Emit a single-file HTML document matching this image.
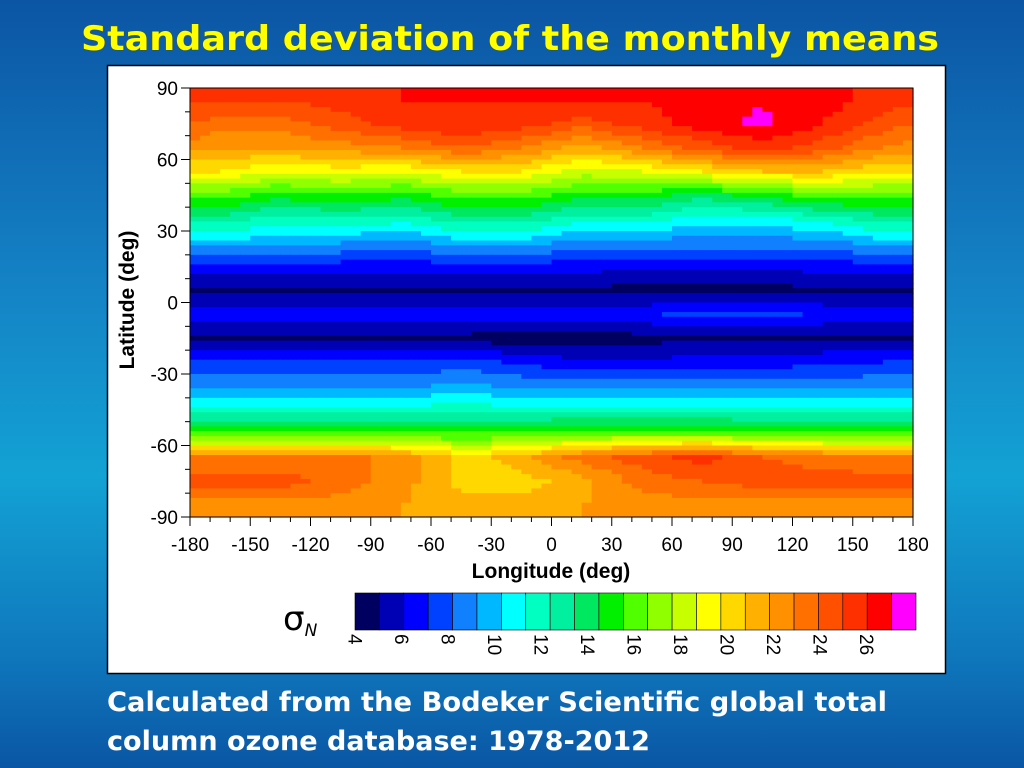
<!DOCTYPE html>
<html><head><meta charset="utf-8"><style>
html,body{margin:0;padding:0;width:1024px;height:768px;overflow:hidden}
svg text{font-family:"Liberation Sans",Arial,sans-serif}
</style></head><body>
<svg id="root" width="1024" height="768" viewBox="0 0 1024 768" xmlns="http://www.w3.org/2000/svg">
<defs>
<linearGradient id="bg" x1="0" y1="0" x2="0" y2="1">
<stop offset="0" stop-color="#0b55a4"/><stop offset="0.35" stop-color="#1480c4"/>
<stop offset="0.62" stop-color="#13a2d4"/><stop offset="0.85" stop-color="#0f78bd"/>
<stop offset="1" stop-color="#0a56a4"/></linearGradient>
</defs>
<rect x="0" y="0" width="1024" height="768" fill="url(#bg)"/>
<text x="510" y="50" text-anchor="middle" fill="#ffff00" font-size="34" font-weight="bold" textLength="858" lengthAdjust="spacingAndGlyphs" style="font-family:'DejaVu Sans',sans-serif;paint-order:stroke" stroke="#555500" stroke-width="0.6">Standard deviation of the monthly means</text>
<rect x="107.5" y="65.5" width="838" height="608" fill="#fff" stroke="#000" stroke-width="1.5"/>
<g id="map"></g>
<g id="axes"></g>
<g id="cbar"></g>
<text x="134" y="300" transform="rotate(-90 134 300)" text-anchor="middle" font-size="21" font-weight="bold">Latitude (deg)</text>
<text x="551" y="578" text-anchor="middle" font-size="21" font-weight="bold">Longitude (deg)</text>
<text x="283" y="630" font-size="34" style="font-family:'DejaVu Sans',sans-serif">σ<tspan font-size="17" font-style="italic" dy="6">N</tspan></text>
<text x="107" y="711" fill="#fff" font-size="27" font-weight="bold" textLength="780" lengthAdjust="spacingAndGlyphs" style="font-family:'DejaVu Sans',sans-serif">Calculated from the Bodeker Scientific global total</text>
<text x="107" y="750" fill="#fff" font-size="27" font-weight="bold" textLength="543" lengthAdjust="spacingAndGlyphs" style="font-family:'DejaVu Sans',sans-serif">column ozone database: 1978-2012</text>
</svg>
<script>
// latitude row centres (deg) and longitude column centres (deg)
const latCenters=[85,75,65,55,45,35,25,15,5,-5,-15,-25,-35,-45,-55,-65,-75,-85];
const lonCenters=[-165,-135,-105,-75,-45,-15,15,45,75,105,135,165];
// standard deviation values, one row per latitude centre
const sd85=[24,24,24.5,25,25,25,25,25,25.5,25.9,25.5,24.5];
const sd75=[22.5,22.5,23.5,24.5,25,24.5,23.5,24.5,25.5,26.3,25,23.5];
const sd65=[21,21,21.5,22,23,22,20.5,22,23.5,24.5,23.5,22];
const sd55=[19,18,18.5,18,19,19,17.5,18,19,20,20,19];
const sd45=[15.5,14.5,15,14.5,15.5,15.5,14.5,14.5,13.5,14.5,15.5,15.5];
const sd35=[12.5,11.5,12,11.5,12.5,12.5,11.5,11.5,10.5,10.5,11.5,12.5];
const sd25=[9.5,9.5,9,8.5,9.5,9.5,8.5,8.5,8.5,8.5,8.5,9.5];
const sd15=[6.5,6.5,6.5,6.5,6.5,6.5,6.5,6,6,6,6.5,6.5];
const sd5=[4.8,4.8,4.8,4.8,4.8,4.8,4.8,4.6,4.5,4.6,4.8,4.8];
const sdm5=[6.8,6.8,6.8,6.8,6.8,6.5,6.5,6.8,7.5,7.5,6.8,6.8];
const sdm15=[4.8,4.8,4.8,4.8,4.6,4.3,4.3,4.6,4.8,4.8,4.8,4.8];
const sdm25=[7,7,7,7,7.5,6.8,6.2,6.2,6.5,6.5,6.8,7];
const sdm35=[8.8,8.8,8.8,8.8,9.2,8.8,8.5,8.5,8.5,8.5,8.5,8.8];
const sdm45=[11.5,11.5,11.5,11.5,11.5,11.5,11.5,11.5,11.5,11.5,11.5,11.5];
const sdm55=[15,15,15,15,15,15,15.5,15.5,15.5,15,15,15];
const sdm65=[22,22,22.5,21.5,19.5,20.5,22.5,23.5,24.5,23,22.5,22];
const sdm75=[23.5,23.5,22.5,21.5,19.5,19.5,20.5,22.5,23,23.5,23.5,23.5];
const sdm85=[21.5,21.5,21.5,21,20.5,20.5,21,21.5,21.5,21.5,21.5,21.5];
const grid=[sd85,sd75,sd65,sd55,sd45,sd35,sd25,sd15,sd5,sdm5,sdm15,sdm25,sdm35,sdm45,sdm55,sdm65,sdm75,sdm85];
const xTicks=[-180,-150,-120,-90,-60,-30,0,30,60,90,120,150,180];
const yTicks=[90,60,30,0,-30,-60,-90];
const cbLabels=[4,6,8,10,12,14,16,18,20,22,24,26];
const cmap=["#000060","#0000b4","#0000ff","#0040ff","#1080ff","#00b8ff","#00ffff","#00ffc0","#00f0a0","#00e860","#00f000","#50ff00","#90ff00","#c8ff00","#ffff00","#ffd800","#ffb000","#ff9000","#ff7000","#ff5000","#ff3000","#ff0000","#ff00ff"];

const NS="http://www.w3.org/2000/svg";
const X0=190,X1=913,Y0=88,Y1=517;
const xs=lon=>X0+(lon+180)/360*(X1-X0);
const ys=lat=>Y0+(90-lat)/180*(Y1-Y0);
function mk(tag,attrs,parent){const e=document.createElementNS(NS,tag);for(const k in attrs)e.setAttribute(k,attrs[k]);parent.appendChild(e);return e;}
function colorFor(v){let i=Math.floor(v-4);if(i<0)i=0;if(i>22)i=22;return cmap[i];}
function sample(lat,lon){
  let fr=(latCenters[0]-lat)/10; if(fr<0)fr=0; if(fr>latCenters.length-1)fr=latCenters.length-1;
  const r0=Math.floor(fr),r1=Math.min(r0+1,latCenters.length-1),tr=fr-r0;
  let fc=(lon-lonCenters[0])/30; const n=lonCenters.length;
  fc=((fc%n)+n)%n; const c0=Math.floor(fc),c1=(c0+1)%n,tc=fc-c0;
  const a=grid[r0][c0]*(1-tc)+grid[r0][c1]*tc, b=grid[r1][c0]*(1-tc)+grid[r1][c1]*tc;
  return a*(1-tr)+b*tr;
}
const map=document.getElementById('map');
const dLat=2,dLon=5;
for(let lat=90;lat>-90;lat-=dLat){
  for(let lon=-180;lon<180;lon+=dLon){
    const v=sample(lat-dLat/2,lon+dLon/2);
    const r=mk('rect',{x:xs(lon).toFixed(2),y:ys(lat).toFixed(2),width:(xs(lon+dLon)-xs(lon)+0.6).toFixed(2),height:(ys(lat-dLat)-ys(lat)+0.6).toFixed(2),fill:colorFor(v)},map);
    
    
  }
}
const ax=document.getElementById('axes');
mk('rect',{x:X0,y:Y0,width:X1-X0,height:Y1-Y0,fill:'none',stroke:'#000','stroke-width':1},ax);
for(let lon=-180;lon<=180;lon+=10){const big=lon%30===0;mk('line',{x1:xs(lon),x2:xs(lon),y1:Y1,y2:Y1+(big?9:5),stroke:'#000','stroke-width':1},ax);}
for(let lat=-90;lat<=90;lat+=10){const big=lat%30===0;mk('line',{x1:X0-(big?9:5),x2:X0,y1:ys(lat),y2:ys(lat),stroke:'#000','stroke-width':1},ax);}
xTicks.forEach(t=>{const e=mk('text',{x:xs(t),y:Y1+34,'text-anchor':'middle','font-size':19},ax);e.textContent=t;
  
  });
yTicks.forEach(t=>{const e=mk('text',{x:X0-12,y:ys(t)+7,'text-anchor':'end','font-size':19},ax);e.textContent=t;
  
  });
const cb=document.getElementById('cbar');
const CX0=355,CX1=916,CY0=593,CY1=630,cw=(CX1-CX0)/cmap.length;
cmap.forEach((c,i)=>{const r=mk('rect',{x:CX0+i*cw,y:CY0,width:cw,height:CY1-CY0,fill:c,stroke:'#000','stroke-width':0.6},cb);
  
  });
cbLabels.forEach((v,i)=>{const x=CX0+(v-4)/2*46.5-1;const e=mk('text',{x:x,y:634,'font-size':19,transform:`rotate(90 ${x} 634)`,'dominant-baseline':'central'},cb);e.textContent=v;
  
  });
</script>
</body></html>
